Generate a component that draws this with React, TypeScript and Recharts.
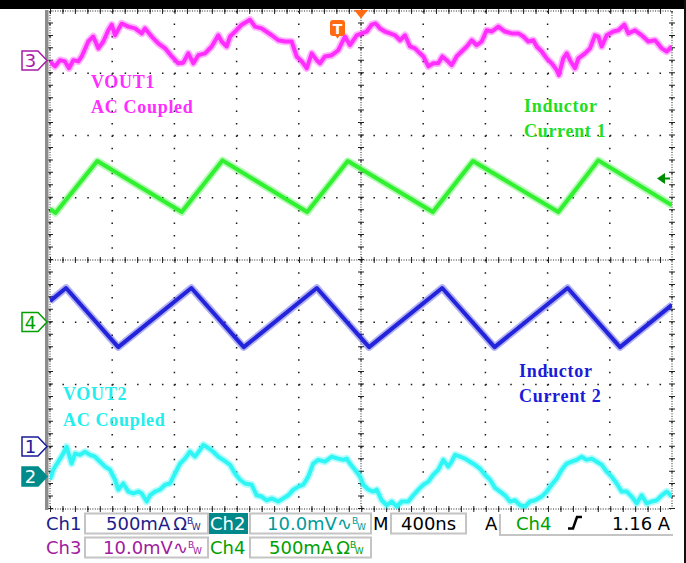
import { LineChart, Line, XAxis, YAxis, CartesianGrid, ReferenceLine } from 'recharts';

// scope screen: 10 div x 400ns, 8 div vertical; values in divisions from centre
const X_TICKS = [-2000, -1600, -1200, -800, -400, 0, 400, 800, 1200, 1600, 2000];
const Y_TICKS = [-4, -3, -2, -1, 0, 1, 2, 3, 4];

// Ch3 VOUT1 (AC coupled, 10mV/div)
const VOUT1: number[][] = [
  [-2000, 3.19], [-1968, 3.11], [-1936, 3.21], [-1904, 3.19], [-1878, 3.08], [-1850, 3.21], [-1818, 3.19],
  [-1796, 3.27], [-1754, 3.51], [-1722, 3.59], [-1689, 3.4], [-1657, 3.51], [-1625, 3.69], [-1603, 3.78],
  [-1582, 3.61], [-1539, 3.8], [-1496, 3.75], [-1453, 3.72], [-1410, 3.64], [-1389, 3.72], [-1346, 3.59],
  [-1304, 3.48], [-1260, 3.4], [-1217, 3.27], [-1175, 3.16], [-1143, 3.17], [-1111, 3.32], [-1078, 3.16],
  [-1046, 3.29], [-1003, 3.32], [-960, 3.43], [-918, 3.61], [-896, 3.51], [-864, 3.43], [-842, 3.59],
  [-810, 3.67], [-767, 3.78], [-714, 3.86], [-682, 3.75], [-639, 3.72], [-574, 3.61], [-532, 3.53],
  [-489, 3.51], [-446, 3.51], [-414, 3.27], [-381, 3.19], [-349, 3.08], [-317, 3.32], [-285, 3.21],
  [-264, 3.16], [-232, 3.27], [-188, 3.29], [-146, 3.37], [-103, 3.59], [-71, 3.45], [-28, 3.61],
  [4, 3.64], [37, 3.67], [69, 3.78], [94, 3.8], [122, 3.72], [154, 3.67], [187, 3.64], [219, 3.61],
  [251, 3.53], [283, 3.61], [315, 3.43], [347, 3.4], [379, 3.32], [401, 3.27], [433, 3.11], [465, 3.16],
  [497, 3.16], [523, 3.27], [551, 3.21], [583, 3.13], [615, 3.27], [647, 3.35], [680, 3.43], [712, 3.53],
  [744, 3.45], [776, 3.51], [808, 3.69], [840, 3.67], [883, 3.75], [926, 3.67], [969, 3.64], [1012, 3.64],
  [1044, 3.59], [1076, 3.51], [1108, 3.53], [1130, 3.43], [1162, 3.35], [1194, 3.24], [1226, 3.16],
  [1259, 3.05], [1273, 2.97], [1301, 3.24], [1323, 3.32], [1344, 3.21], [1376, 3.08], [1398, 3.24],
  [1441, 3.32], [1473, 3.4], [1505, 3.61], [1526, 3.59], [1548, 3.43], [1580, 3.61], [1623, 3.67],
  [1655, 3.69], [1693, 3.78], [1719, 3.64], [1762, 3.69], [1805, 3.61], [1848, 3.51], [1891, 3.53],
  [1934, 3.4], [1966, 3.35], [2000, 3.43],
];

// Ch4 inductor current 1 (500mA/div)
const IL1: number[][] = [
  [-2000, 0.82], [-1965, 0.755], [-1696, 1.59], [-1153, 0.77], [-891, 1.6], [-346, 0.77],
  [-85, 1.59], [462, 0.77], [720, 1.59], [1269, 0.77], [1526, 1.6], [2000, 0.88],
];

// Ch1 inductor current 2 (500mA/div)
const IL2: number[][] = [
  [-2000, -0.66], [-1897, -0.45], [-1561, -1.4], [-1091, -0.45], [-754, -1.4], [-284, -0.45],
  [52, -1.4], [522, -0.45], [859, -1.4], [1329, -0.45], [1666, -1.4], [2000, -0.72],
];

// Ch2 VOUT2 (AC coupled, 10mV/div)
const VOUT2: number[][] = [
  [-2000, -3.53], [-1979, -3.37], [-1947, -3.24], [-1915, -3.11], [-1893, -3.0], [-1878, -3.13],
  [-1861, -3.27], [-1839, -3.11], [-1807, -3.13], [-1775, -3.08], [-1743, -3.13], [-1711, -3.16],
  [-1678, -3.24], [-1646, -3.32], [-1614, -3.37], [-1582, -3.53], [-1561, -3.69], [-1529, -3.59],
  [-1496, -3.72], [-1464, -3.75], [-1432, -3.72], [-1410, -3.75], [-1378, -3.88], [-1357, -3.78],
  [-1325, -3.72], [-1293, -3.69], [-1260, -3.61], [-1228, -3.59], [-1196, -3.43], [-1164, -3.27],
  [-1132, -3.19], [-1100, -3.08], [-1068, -3.16], [-1035, -3.05], [-1014, -2.97], [-982, -3.02],
  [-950, -3.08], [-918, -3.16], [-886, -3.21], [-842, -3.29], [-810, -3.43], [-778, -3.53],
  [-746, -3.59], [-703, -3.61], [-671, -3.78], [-639, -3.8], [-606, -3.86], [-574, -3.83],
  [-532, -3.88], [-500, -3.83], [-468, -3.78], [-435, -3.69], [-403, -3.64], [-371, -3.61],
  [-339, -3.48], [-307, -3.27], [-275, -3.21], [-232, -3.24], [-188, -3.16], [-146, -3.19],
  [-114, -3.21], [-92, -3.19], [-71, -3.27], [-39, -3.37], [-6, -3.48], [15, -3.61], [47, -3.69],
  [79, -3.72], [101, -3.69], [133, -3.86], [165, -3.94], [197, -3.88], [230, -3.96], [262, -3.88],
  [304, -3.88], [336, -3.78], [369, -3.69], [401, -3.61], [433, -3.56], [465, -3.45], [497, -3.37],
  [529, -3.21], [561, -3.32], [583, -3.24], [605, -3.13], [637, -3.16], [669, -3.19], [701, -3.24],
  [733, -3.29], [765, -3.35], [797, -3.45], [830, -3.53], [862, -3.66], [894, -3.72], [926, -3.78],
  [958, -3.88], [990, -3.86], [1023, -3.94], [1055, -3.96], [1087, -3.88], [1119, -3.86], [1162, -3.8],
  [1194, -3.72], [1226, -3.61], [1259, -3.51], [1291, -3.37], [1323, -3.27], [1355, -3.24], [1387, -3.21],
  [1419, -3.16], [1451, -3.21], [1484, -3.19], [1516, -3.24], [1548, -3.29], [1580, -3.4], [1612, -3.48],
  [1644, -3.59], [1676, -3.72], [1709, -3.72], [1741, -3.8], [1773, -3.91], [1805, -3.78], [1837, -3.91],
  [1869, -3.88], [1902, -3.86], [1934, -3.78], [1966, -3.72], [2000, -3.8],
];

const toRows = (pts: number[][]) => pts.map(([t, v]) => ({ t, v }));

const TRACES = [
  { name: 'ch3', data: toRows(VOUT1), color: '#ff2eff' },
  { name: 'ch4', data: toRows(IL1), color: '#30f030' },
  { name: 'ch1', data: toRows(IL2), color: '#2323dc' },
  { name: 'ch2', data: toRows(VOUT2), color: '#2ff5f5' },
];

const LABEL_FONT = '"Liberation Serif", "DejaVu Serif", serif';
const STATUS_FONT = '"DejaVu Sans", sans-serif';

function Marker({ y, label, color, filled }: { y: number; label: string; color: string; filled?: boolean }) {
  const pts = `22,${y - 9.5} 38,${y - 9.5} 47,${y} 38,${y + 9.5} 22,${y + 9.5}`;
  return (
    <g>
      <polygon points={pts} fill={filled ? color : '#fff'} stroke={color} strokeWidth={1.5} />
      <text x={30.5} y={y + 6.5} textAnchor="middle" fontFamily={STATUS_FONT} fontSize={18} fill={filled ? '#fff' : color}>
        {label}
      </text>
    </g>
  );
}

function Bw({ sym, gap = 0 }: { sym: string; gap?: number }) {
  return (
    <>
      <tspan dx={gap}>{sym}</tspan>
      <tspan fontSize={9} dy={-6}>B</tspan>
      <tspan fontSize={9} dy={6} dx={-1}>W</tspan>
    </>
  );
}

export default function App() {
  return (
    <div style={{ position: 'absolute', left: 0, top: 0, width: 686, height: 563, background: '#fff' }}>
      <LineChart width={686} height={563} margin={{ top: 11, right: 14, bottom: 54, left: 50 }}>
        <XAxis type="number" dataKey="t" domain={[-2000, 2000]} ticks={X_TICKS} hide allowDataOverflow />
        <YAxis type="number" dataKey="v" domain={[-4, 4]} ticks={Y_TICKS} hide allowDataOverflow />
        <CartesianGrid stroke="#1a1a1a" strokeWidth={1.5} strokeDasharray="1.5 10.94" />
        {/* centre crosshair and frame rulers */}
        {[0, -2000, 2000].map((x) => (
          <ReferenceLine key={`xd${x}`} x={x} stroke="#222" strokeWidth={1} strokeDasharray="1 1.49" />
        ))}
        {[0, -2000, 2000].map((x) => (
          <ReferenceLine key={`xt${x}`} x={x} stroke="#222" strokeWidth={6} strokeDasharray="1 11.45" />
        ))}
        {[0, -4, 4].map((y) => (
          <ReferenceLine key={`yd${y}`} y={y} stroke="#222" strokeWidth={1} strokeDasharray="1 1.49" />
        ))}
        {[0, -4, 4].map((y) => (
          <ReferenceLine key={`yt${y}`} y={y} stroke="#222" strokeWidth={6} strokeDasharray="1 11.45" />
        ))}
        {/* faint halo under each trace mimics the scope's noise band */}
        {TRACES.map((tr) => (
          <Line key={`${tr.name}-halo`} data={tr.data} dataKey="v" type="linear" stroke={tr.color} strokeOpacity={0.35}
            strokeWidth={7.5} strokeLinejoin="round" dot={false} activeDot={false} isAnimationActive={false} />
        ))}
        {TRACES.map((tr) => (
          <Line key={tr.name} data={tr.data} dataKey="v" type="linear" stroke={tr.color}
            strokeWidth={4} strokeLinejoin="round" dot={false} activeDot={false} isAnimationActive={false} />
        ))}
      </LineChart>

      <svg width={686} height={563} style={{ position: 'absolute', left: 0, top: 0, pointerEvents: 'none' }}>
        <rect x={0} y={0} width={686} height={9} fill="#000" />
        <rect x={684} y={0} width={2} height={563} fill="#111" />
        <rect x={45} y={10} width={3.5} height={500} fill="#8c8c8c" />

        <Marker y={60.5} label="3" color="#a81ca8" />
        <Marker y={322} label="4" color="#00a000" />
        <Marker y={446.5} label="1" color="#1a1a99" />
        <Marker y={476.5} label="2" color="#008b8b" filled />

        {/* trigger markers */}
        <polygon points="354,10 368,10 361,18.5" fill="#ff6a13" />
        <rect x={330} y={20} width={15} height={16} rx={3} fill="#ff6a13" />
        <polygon points="335,35.5 340,35.5 337.5,38.5" fill="#ff6a13" />
        <text x={337.5} y={33.5} textAnchor="middle" fontFamily={STATUS_FONT} fontWeight="bold" fontSize={14} fill="#fff">T</text>
        <polygon points="657,178.5 665,173 665,184" fill="#008c00" />
        <rect x={664} y={177.5} width={6} height={2} fill="#008c00" />

        {/* trace labels */}
        <g fontFamily={LABEL_FONT} fontWeight="bold" fontSize={18} letterSpacing={0.7}>
          <text x={91} y={88} fill="#ff2eff">VOUT1</text>
          <text x={91} y={113} fill="#ff2eff">AC Coupled</text>
          <text x={524} y={112} fill="#22dd22">Inductor</text>
          <text x={524} y={137} fill="#22dd22">Current 1</text>
          <text x={519} y={377} fill="#1a1ad8">Inductor</text>
          <text x={519} y={402} fill="#1a1ad8">Current 2</text>
          <text x={63} y={400} fill="#22eeee">VOUT2</text>
          <text x={63} y={426} fill="#22eeee">AC Coupled</text>
        </g>

        {/* status bar */}
        <g fontFamily={STATUS_FONT} fontSize={18}>
          <text x={46} y={530} fill="#1c1c8c">Ch1</text>
          <rect x={85} y={513.5} width={123} height={20} fill="none" stroke="#c4c4c4" strokeWidth={2} />
          <text x={106} y={530} fill="#1c1c8c">500mA<Bw sym="Ω" gap={3} /></text>
          <rect x={209} y={513} width={39} height={21} fill="#00898b" />
          <text x={210} y={530} fill="#fff">Ch2</text>
          <rect x={250} y={513.5} width={121} height={20} fill="none" stroke="#c4c4c4" strokeWidth={2} />
          <text x={267} y={530} fill="#009a9a">10.0mV<Bw sym="∿" /></text>
          <text x={373} y={530} fill="#000">M</text>
          <rect x={391} y={513.5} width={75} height={20} fill="none" stroke="#c4c4c4" strokeWidth={2} />
          <text x={401} y={530} fill="#000">400ns</text>
          <text x={485} y={530} fill="#000">A</text>
          <polyline points="500,514 500,535 673,535" fill="none" stroke="#c4c4c4" strokeWidth={2} />
          <text x={516} y={530} fill="#00a000">Ch4</text>
          <polyline points="568,528.5 573,528.5 577,517 582,517" fill="none" stroke="#000" strokeWidth={2.5} />
          <text x={612} y={530} fill="#000">1.16 A</text>

          <text x={46} y={554} fill="#a01ca0">Ch3</text>
          <rect x={85} y={537.5} width={123} height={20} fill="none" stroke="#c4c4c4" strokeWidth={2} />
          <text x={103} y={554} fill="#a01ca0">10.0mV<Bw sym="∿" /></text>
          <text x={210} y={554} fill="#00a000">Ch4</text>
          <rect x={250} y={537.5} width={121} height={20} fill="none" stroke="#c4c4c4" strokeWidth={2} />
          <text x={269} y={554} fill="#00a000">500mA<Bw sym="Ω" gap={3} /></text>
        </g>
      </svg>
    </div>
  );
}
